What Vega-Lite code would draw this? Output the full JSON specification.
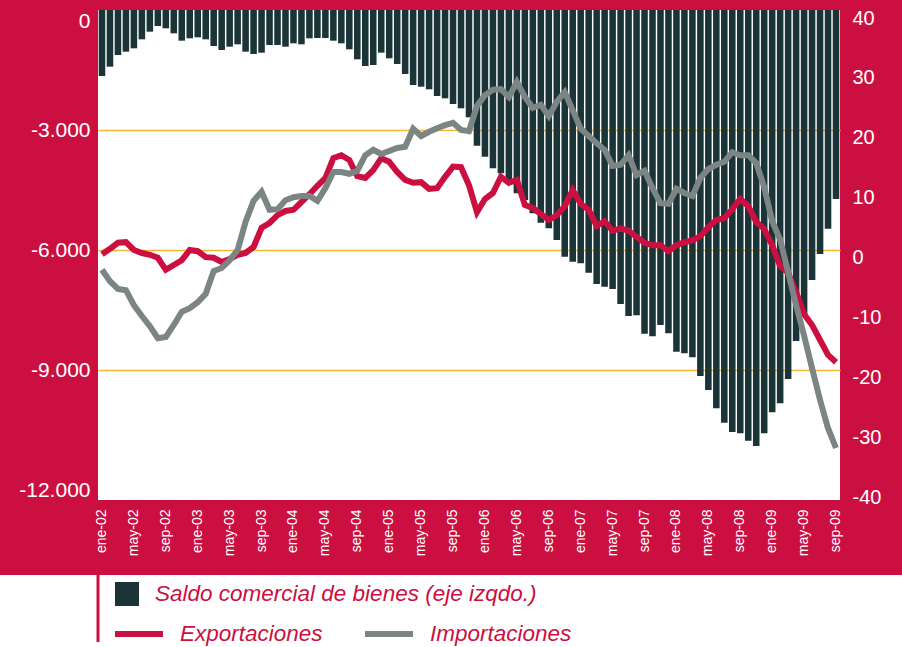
{
  "$schema": "https://vega.github.io/schema/vega-lite/v6.json",
  "background": "#cb0f40",
  "padding": {"top": 8, "left": 0, "right": 0, "bottom": 0},
  "spacing": 0,
  "columns": 1,
  "align": "none",
  "config": {
    "view": {"stroke": null},
    "font": "Liberation Sans",
    "axis": {"domain": false, "ticks": false, "grid": false, "title": null, "labelFont": "Liberation Sans", "labelColor": "white"},
    "legend": {"strokeWidth": 3, "strokeDash": [0, 1079, 66]}
  },
  "concat": [
    {
      "width": 742,
      "height": 490,
      "view": {"fill": "white", "stroke": null},
      "data": {"values": [
        {"mes":"ene-02","saldo":-1650,"Exportaciones":-0.7,"Importaciones":-3.3},
        {"mes":"feb-02","saldo":-1417,"Exportaciones":0.2,"Importaciones":-5.2},
        {"mes":"mar-02","saldo":-1125,"Exportaciones":1.2,"Importaciones":-6.5},
        {"mes":"abr-02","saldo":-1042,"Exportaciones":1.3,"Importaciones":-6.7},
        {"mes":"may-02","saldo":-958,"Exportaciones":0,"Importaciones":-9.2},
        {"mes":"jun-02","saldo":-733,"Exportaciones":-0.5,"Importaciones":-11},
        {"mes":"jul-02","saldo":-542,"Exportaciones":-0.8,"Importaciones":-12.7},
        {"mes":"ago-02","saldo":-400,"Exportaciones":-1.3,"Importaciones":-14.7},
        {"mes":"sep-02","saldo":-458,"Exportaciones":-3.3,"Importaciones":-14.5},
        {"mes":"oct-02","saldo":-583,"Exportaciones":-2.5,"Importaciones":-12.5},
        {"mes":"nov-02","saldo":-767,"Exportaciones":-1.7,"Importaciones":-10.3},
        {"mes":"dic-02","saldo":-708,"Exportaciones":0,"Importaciones":-9.7},
        {"mes":"ene-03","saldo":-683,"Exportaciones":-0.2,"Importaciones":-8.7},
        {"mes":"feb-03","saldo":-733,"Exportaciones":-1.2,"Importaciones":-7.3},
        {"mes":"mar-03","saldo":-900,"Exportaciones":-1.3,"Importaciones":-3.5},
        {"mes":"abr-03","saldo":-1000,"Exportaciones":-2,"Importaciones":-3},
        {"mes":"may-03","saldo":-917,"Exportaciones":-1.5,"Importaciones":-1.7},
        {"mes":"jun-03","saldo":-858,"Exportaciones":-0.8,"Importaciones":0},
        {"mes":"jul-03","saldo":-1042,"Exportaciones":-0.5,"Importaciones":4.7},
        {"mes":"ago-03","saldo":-1100,"Exportaciones":0.5,"Importaciones":8.2},
        {"mes":"sep-03","saldo":-1067,"Exportaciones":3.7,"Importaciones":9.7},
        {"mes":"oct-03","saldo":-875,"Exportaciones":4.5,"Importaciones":6.7},
        {"mes":"nov-03","saldo":-875,"Exportaciones":5.8,"Importaciones":6.8},
        {"mes":"dic-03","saldo":-917,"Exportaciones":6.5,"Importaciones":8.3},
        {"mes":"ene-04","saldo":-833,"Exportaciones":6.7,"Importaciones":8.8},
        {"mes":"feb-04","saldo":-858,"Exportaciones":8,"Importaciones":9},
        {"mes":"mar-04","saldo":-708,"Exportaciones":9.3,"Importaciones":9},
        {"mes":"abr-04","saldo":-700,"Exportaciones":10.7,"Importaciones":8.2},
        {"mes":"may-04","saldo":-700,"Exportaciones":12,"Importaciones":10.3},
        {"mes":"jun-04","saldo":-767,"Exportaciones":15.3,"Importaciones":13},
        {"mes":"jul-04","saldo":-833,"Exportaciones":15.8,"Importaciones":13},
        {"mes":"ago-04","saldo":-983,"Exportaciones":15,"Importaciones":12.7},
        {"mes":"sep-04","saldo":-1233,"Exportaciones":12.3,"Importaciones":13.2},
        {"mes":"oct-04","saldo":-1400,"Exportaciones":12,"Importaciones":15.8},
        {"mes":"nov-04","saldo":-1375,"Exportaciones":13.3,"Importaciones":16.7},
        {"mes":"dic-04","saldo":-1067,"Exportaciones":15.3,"Importaciones":16},
        {"mes":"ene-05","saldo":-1208,"Exportaciones":14.7,"Importaciones":16.5},
        {"mes":"feb-05","saldo":-1350,"Exportaciones":13,"Importaciones":17},
        {"mes":"mar-05","saldo":-1600,"Exportaciones":11.7,"Importaciones":17.2},
        {"mes":"abr-05","saldo":-1875,"Exportaciones":11.2,"Importaciones":20.2},
        {"mes":"may-05","saldo":-1917,"Exportaciones":11.3,"Importaciones":19},
        {"mes":"jun-05","saldo":-1983,"Exportaciones":10.2,"Importaciones":19.7},
        {"mes":"jul-05","saldo":-2150,"Exportaciones":10.3,"Importaciones":20.3},
        {"mes":"ago-05","saldo":-2208,"Exportaciones":12.2,"Importaciones":20.8},
        {"mes":"sep-05","saldo":-2350,"Exportaciones":13.9,"Importaciones":21.2},
        {"mes":"oct-05","saldo":-2458,"Exportaciones":13.8,"Importaciones":20},
        {"mes":"nov-05","saldo":-2683,"Exportaciones":10.8,"Importaciones":19.8},
        {"mes":"dic-05","saldo":-3392,"Exportaciones":6.3,"Importaciones":24},
        {"mes":"ene-06","saldo":-3667,"Exportaciones":8.5,"Importaciones":25.8},
        {"mes":"feb-06","saldo":-3958,"Exportaciones":9.5,"Importaciones":26.7},
        {"mes":"mar-06","saldo":-4083,"Exportaciones":12.2,"Importaciones":26.8},
        {"mes":"abr-06","saldo":-4292,"Exportaciones":11.2,"Importaciones":25.5},
        {"mes":"may-06","saldo":-4583,"Exportaciones":11.7,"Importaciones":28},
        {"mes":"jun-06","saldo":-4750,"Exportaciones":7.5,"Importaciones":25.5},
        {"mes":"jul-06","saldo":-5083,"Exportaciones":7,"Importaciones":23.7},
        {"mes":"ago-06","saldo":-5317,"Exportaciones":6,"Importaciones":24.2},
        {"mes":"sep-06","saldo":-5458,"Exportaciones":5,"Importaciones":22.3},
        {"mes":"oct-06","saldo":-5750,"Exportaciones":5.8,"Importaciones":24.7},
        {"mes":"nov-06","saldo":-6167,"Exportaciones":7.3,"Importaciones":26.3},
        {"mes":"dic-06","saldo":-6292,"Exportaciones":10,"Importaciones":23.3},
        {"mes":"ene-07","saldo":-6333,"Exportaciones":7.7,"Importaciones":20.2},
        {"mes":"feb-07","saldo":-6567,"Exportaciones":6.7,"Importaciones":19},
        {"mes":"mar-07","saldo":-6850,"Exportaciones":4,"Importaciones":17.8},
        {"mes":"abr-07","saldo":-6917,"Exportaciones":4.8,"Importaciones":16.7},
        {"mes":"may-07","saldo":-6975,"Exportaciones":3.2,"Importaciones":14},
        {"mes":"jun-07","saldo":-7350,"Exportaciones":3.6,"Importaciones":14.2},
        {"mes":"jul-07","saldo":-7650,"Exportaciones":3.2,"Importaciones":15.8},
        {"mes":"ago-07","saldo":-7633,"Exportaciones":2.2,"Importaciones":12.5},
        {"mes":"sep-07","saldo":-8092,"Exportaciones":1.2,"Importaciones":13.2},
        {"mes":"oct-07","saldo":-8158,"Exportaciones":0.8,"Importaciones":10.3},
        {"mes":"nov-07","saldo":-7875,"Exportaciones":0.8,"Importaciones":7.8},
        {"mes":"dic-07","saldo":-8083,"Exportaciones":-0.2,"Importaciones":7.7},
        {"mes":"ene-08","saldo":-8542,"Exportaciones":0.8,"Importaciones":10.2},
        {"mes":"feb-08","saldo":-8583,"Exportaciones":1.3,"Importaciones":9.5},
        {"mes":"mar-08","saldo":-8683,"Exportaciones":1.6,"Importaciones":9},
        {"mes":"abr-08","saldo":-9150,"Exportaciones":2.3,"Importaciones":12},
        {"mes":"may-08","saldo":-9500,"Exportaciones":3.8,"Importaciones":13.5},
        {"mes":"jun-08","saldo":-9958,"Exportaciones":5,"Importaciones":14.2},
        {"mes":"jul-08","saldo":-10317,"Exportaciones":5.3,"Importaciones":14.7},
        {"mes":"ago-08","saldo":-10550,"Exportaciones":6.8,"Importaciones":16.3},
        {"mes":"sep-08","saldo":-10583,"Exportaciones":8.5,"Importaciones":15.8},
        {"mes":"oct-08","saldo":-10767,"Exportaciones":7.3,"Importaciones":15.8},
        {"mes":"nov-08","saldo":-10900,"Exportaciones":4.7,"Importaciones":14.5},
        {"mes":"dic-08","saldo":-10583,"Exportaciones":3.5,"Importaciones":10.5},
        {"mes":"ene-09","saldo":-10058,"Exportaciones":0.8,"Importaciones":4.8},
        {"mes":"feb-09","saldo":-9833,"Exportaciones":-2.7,"Importaciones":1.7},
        {"mes":"mar-09","saldo":-9225,"Exportaciones":-3.8,"Importaciones":-3.7},
        {"mes":"abr-09","saldo":-8275,"Exportaciones":-7,"Importaciones":-9.2},
        {"mes":"may-09","saldo":-7625,"Exportaciones":-10.7,"Importaciones":-14.3},
        {"mes":"jun-09","saldo":-6750,"Exportaciones":-12.5,"Importaciones":-19.7},
        {"mes":"jul-09","saldo":-6100,"Exportaciones":-15,"Importaciones":-25},
        {"mes":"ago-09","saldo":-5467,"Exportaciones":-17.5,"Importaciones":-29.7},
        {"mes":"sep-09","saldo":-4725,"Exportaciones":-18.7,"Importaciones":-33}
      ]},
      "encoding": {
        "x": {
          "field": "mes", "type": "nominal", "sort": null,
          "scale": {"paddingInner": 0.18, "paddingOuter": 0.09},
          "axis": {
            "values": ["ene-02","may-02","sep-02","ene-03","may-03","sep-03","ene-04","may-04","sep-04","ene-05","may-05","sep-05","ene-06","may-06","sep-06","ene-07","may-07","sep-07","ene-08","may-08","sep-08","ene-09","may-09","sep-09"],
            "labelAngle": -90, "labelAlign": "right", "labelBaseline": "middle",
            "labelFontSize": 14, "labelPadding": 9, "labelOverlap": false,
            "minExtent": 75, "maxExtent": 75
          }
        }
      },
      "layer": [
        {
          "mark": {"type": "bar"},
          "encoding": {
            "y": {
              "field": "saldo", "type": "quantitative",
              "scale": {"domain": [-12250, 0], "nice": false},
              "axis": {
                "orient": "left",
                "values": [0, -3000, -6000, -9000, -12000],
                "labelExpr": "datum.value == 0 ? '0' : '-' + replace(format(-datum.value, ','), ',', '.')",
                "labelFontSize": 21, "labelPadding": 8,
                "labelBaseline": {"condition": {"test": "datum.value == 0", "value": "top"}, "value": "middle"},
                "grid": true, "gridWidth": 1.5,
                "gridColor": {"condition": {"test": "datum.value == 0 || datum.value == -12000", "value": "transparent"}, "value": "#f7b733"},
                "minExtent": 98, "maxExtent": 98
              }
            },
            "fill": {
              "datum": "Saldo comercial de bienes (eje izqdo.)", "type": "nominal",
              "scale": {"range": ["#1b3437"]},
              "legend": {
                "orient": "none", "legendX": -98, "legendY": 565, "padding": 7,
                "fillColor": "white", "zindex": 0,
                "title": " ", "titleOrient": "bottom", "titlePadding": 33, "titleFontSize": 1,
                "symbolType": "square", "symbolSize": 576, "symbolStrokeWidth": 0, "symbolOffset": 108,
                "labelFontSize": 22.5, "labelFontStyle": "italic", "labelColor": "#cb0f40",
                "labelFont": "Liberation Sans", "labelOffset": 16, "labelLimit": 600
              }
            }
          }
        },
        {
          "transform": [{"fold": ["Exportaciones", "Importaciones"], "as": ["serie", "valor"]}],
          "mark": {"type": "line", "strokeWidth": 6},
          "encoding": {
            "y": {
              "field": "valor", "type": "quantitative",
              "scale": {"domain": [-41.667, 40], "nice": false, "zero": false},
              "axis": {
                "orient": "right",
                "values": [40, 30, 20, 10, 0, -10, -20, -30, -40],
                "labelExpr": "'' + datum.value",
                "labelFontSize": 20, "labelPadding": 12, "labelOffset": 8,
                "minExtent": 62, "maxExtent": 62
              }
            },
            "color": {
              "field": "serie", "type": "nominal",
              "scale": {"domain": ["Exportaciones", "Importaciones"], "range": ["#cb0f40", "#7b8583"]},
              "legend": {
                "orient": "none", "legendX": 0, "legendY": 565, "padding": 14, "zindex": 1,
                "strokeColor": "#cb0f40",
                "title": " ", "titleFontSize": 10, "titlePadding": 8,
                "direction": "horizontal", "columns": 2, "columnPadding": 30,
                "symbolType": "stroke", "symbolStrokeWidth": 6, "symbolSize": 2304,
                "labelFontSize": 22.5, "labelFontStyle": "italic", "labelColor": "#cb0f40",
                "labelFont": "Liberation Sans", "labelOffset": 14, "labelLimit": 400
              }
            }
          }
        }
      ],
      "resolve": {"scale": {"y": "independent"}}
    },
    {
      "width": 804,
      "height": 72,
      "view": {"fill": "white", "stroke": null},
      "data": {"values": []},
      "mark": "point"
    }
  ]
}
